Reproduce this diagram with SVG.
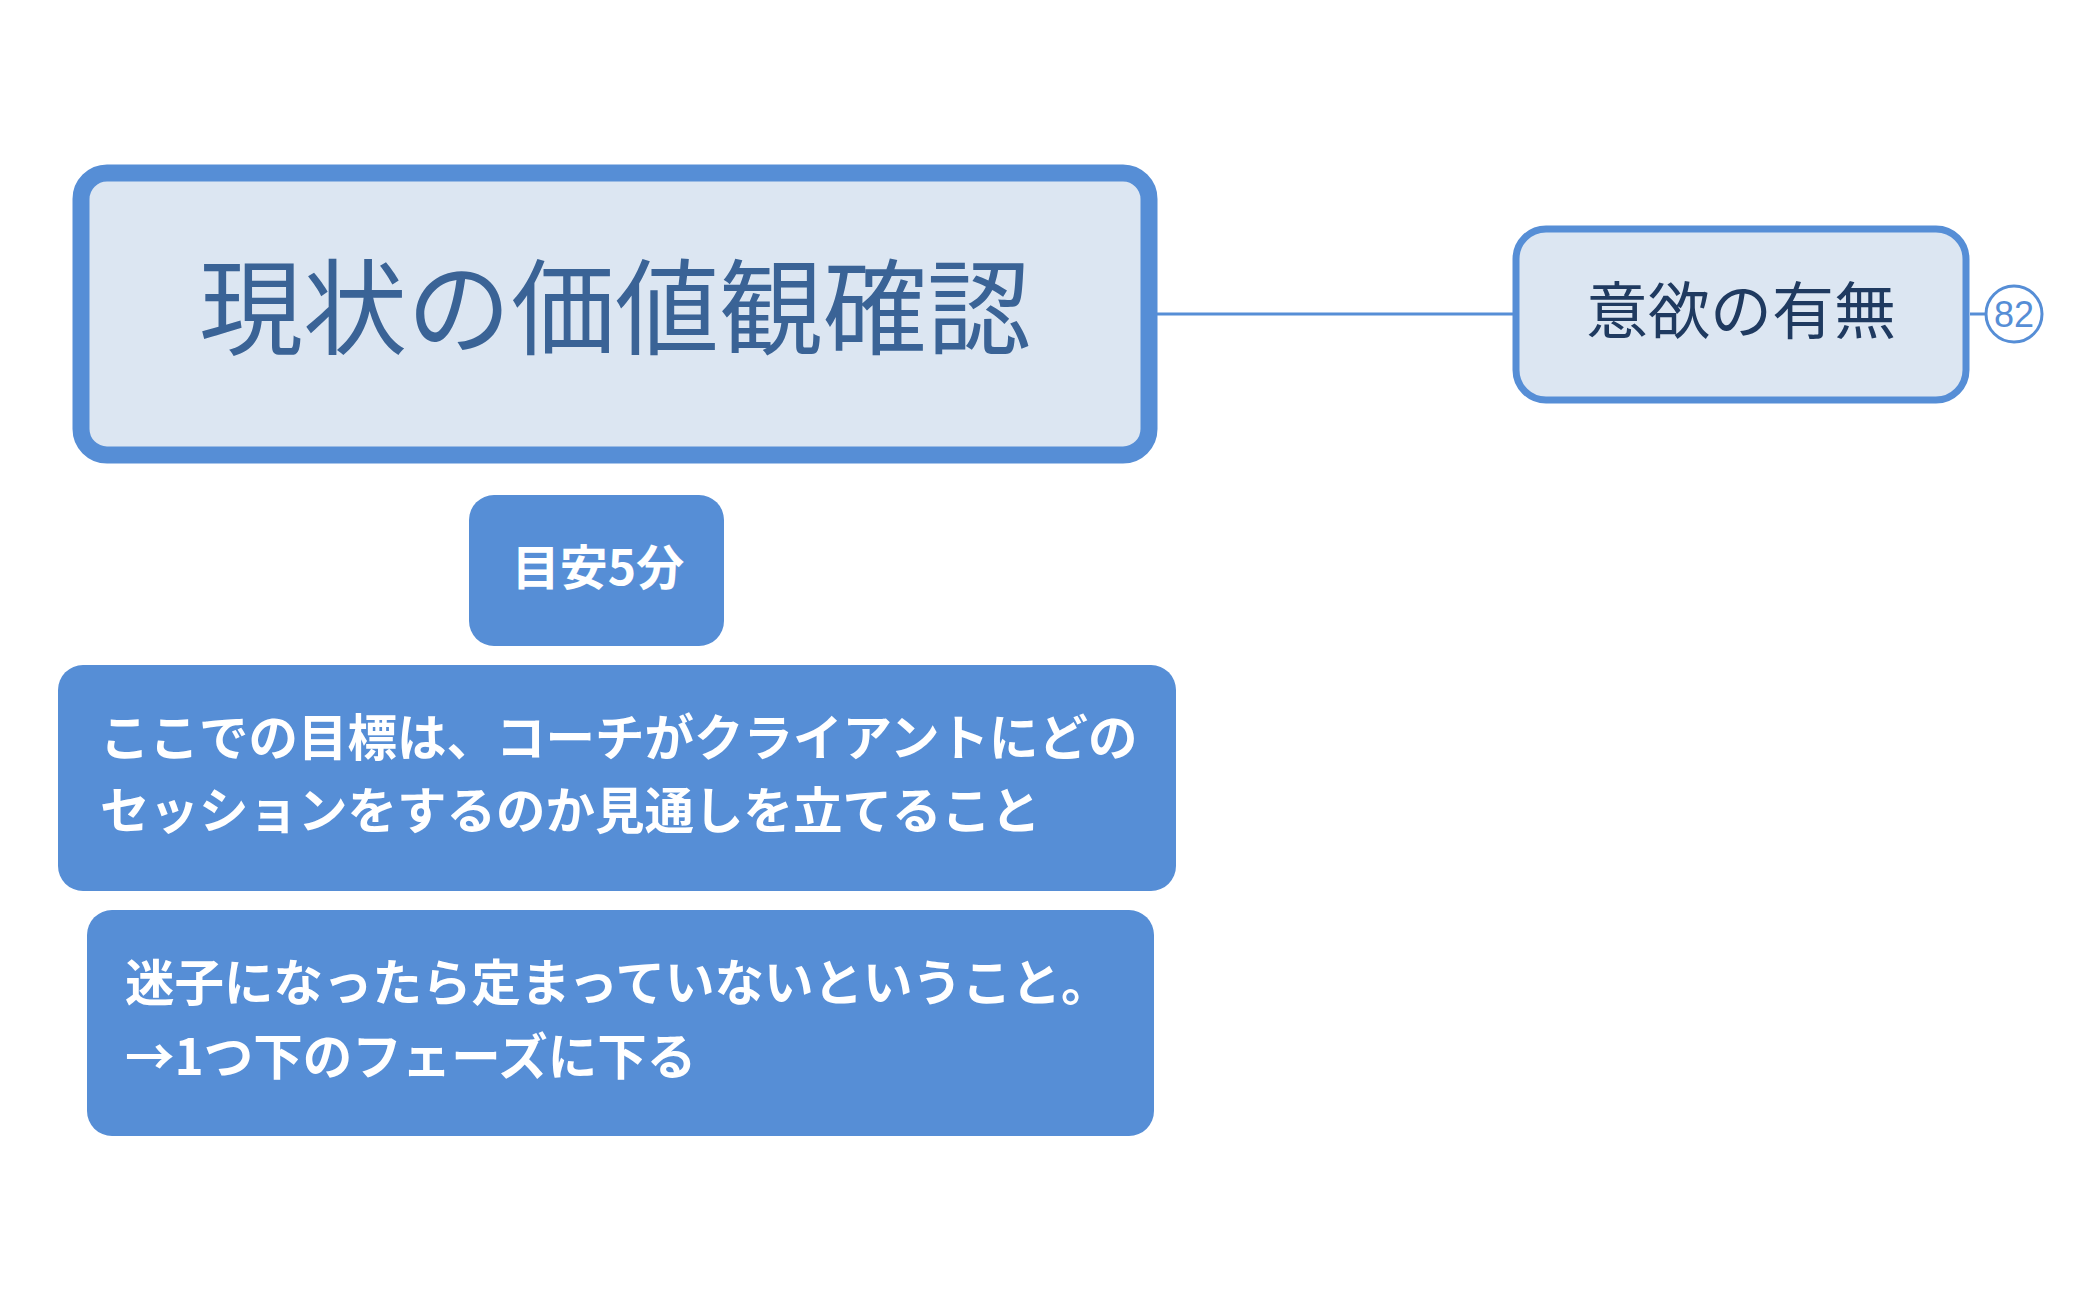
<svg xmlns="http://www.w3.org/2000/svg" width="2098" height="1300" viewBox="0 0 2098 1300">
<style>
.light{fill:#dce6f2;stroke:#568ed6}
.solid{fill:#568ed6}
.jp{font-family:"Noto Sans CJK JP","Noto Sans CJK SC",sans-serif}
.wt{fill:#ffffff;font-weight:700}
.conn{stroke:#568ed6;stroke-width:3;fill:none}
</style>
<rect width="2098" height="1300" fill="#ffffff"/>
<g id="connectors">
<line class="conn" x1="1157" y1="314" x2="1513" y2="314"/>
<line class="conn" x1="1970" y1="314" x2="1986" y2="314"/>
</g>
<g id="node-main">
<rect class="light" x="81" y="173" width="1068" height="282" rx="26" stroke-width="17"/>
<text class="jp" x="615" y="347" font-size="104" fill="#3a6396" text-anchor="middle">現状の価値観確認</text>
</g>
<g id="node-iyoku">
<rect class="light" x="1516" y="229" width="450" height="171" rx="30" stroke-width="7"/>
<text class="jp" x="1741" y="334" font-size="62" fill="#1f3a60" text-anchor="middle">意欲の有無</text>
</g>
<g id="badge-82">
<circle cx="2014" cy="314" r="28" fill="#ffffff" stroke="#568ed6" stroke-width="3"/>
<text x="2014" y="327" font-family="Liberation Sans, Arial, sans-serif" font-size="36" fill="#568ed6" text-anchor="middle">82</text>
</g>
<g id="node-meyasu">
<rect class="solid" x="469" y="495" width="255" height="151" rx="25"/>
<text class="jp wt" x="598" y="585" font-size="48" text-anchor="middle">目安5分</text>
</g>
<g id="node-goal">
<rect class="solid" x="58" y="665" width="1118" height="226" rx="25"/>
<text class="jp wt" x="100" y="756" font-size="49.5">ここでの目標は、コーチがクライアントにどの</text>
<text class="jp wt" x="100" y="829" font-size="49.5">セッションをするのか見通しを立てること</text>
</g>
<g id="node-maigo">
<rect class="solid" x="87" y="910" width="1067" height="226" rx="25"/>
<text class="jp wt" x="125" y="1001" font-size="49.5">迷子になったら定まっていないということ。</text>
<text class="jp wt" x="125" y="1075" font-size="49.5">→1つ下のフェーズに下る</text>
</g>
</svg>
